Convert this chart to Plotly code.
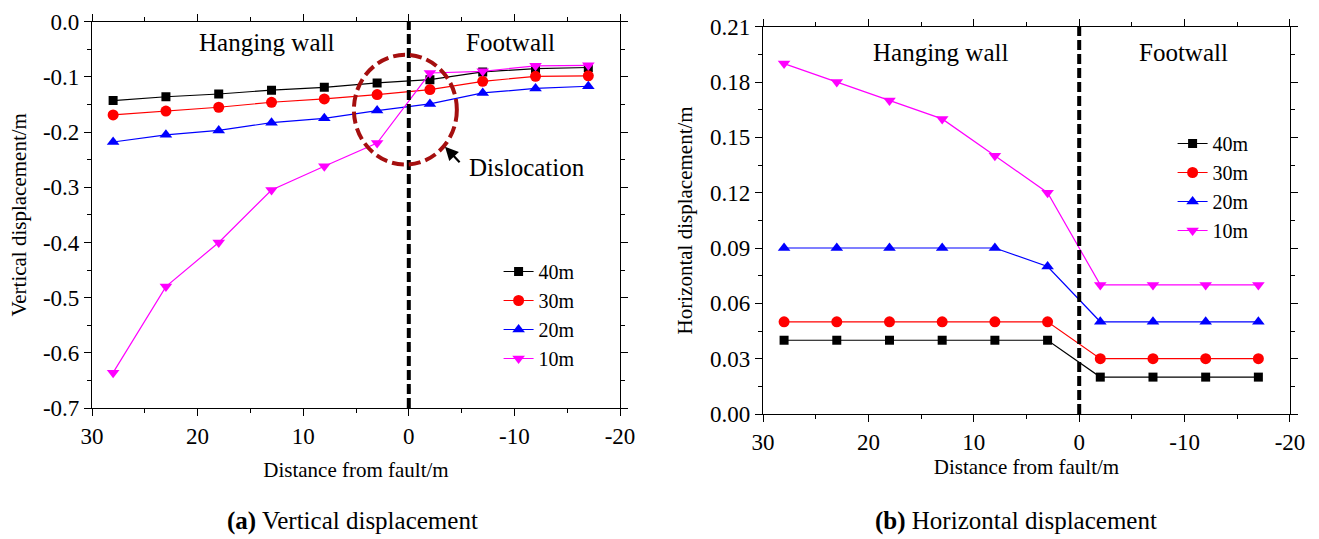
import plotly.graph_objects as go

# ---- data ----
distance = [28, 23, 18, 13, 8, 3, -2, -7, -12, -17]
series_names = ["40m", "30m", "20m", "10m"]

vertical_40 = [-0.143, -0.136, -0.131, -0.124, -0.119, -0.111, -0.105, -0.091, -0.085, -0.083]
vertical_30 = [-0.169, -0.162, -0.155, -0.146, -0.140, -0.132, -0.123, -0.108, -0.099, -0.098]
vertical_20 = [-0.218, -0.205, -0.197, -0.183, -0.175, -0.161, -0.149, -0.129, -0.121, -0.117]
vertical_10 = [-0.636, -0.480, -0.400, -0.305, -0.262, -0.220, -0.093, -0.090, -0.080, -0.079]

horizontal_40 = [0.04, 0.04, 0.04, 0.04, 0.04, 0.04, 0.02, 0.02, 0.02, 0.02]
horizontal_30 = [0.05, 0.05, 0.05, 0.05, 0.05, 0.05, 0.03, 0.03, 0.03, 0.03]
horizontal_20 = [0.09, 0.09, 0.09, 0.09, 0.09, 0.08, 0.05, 0.05, 0.05, 0.05]
horizontal_10 = [0.19, 0.18, 0.17, 0.16, 0.14, 0.12, 0.07, 0.07, 0.07, 0.07]

# tick labels (hyphen-minus as in the original)
x_tick_vals = [30, 20, 10, 0, -10, -20]
x_tick_text = ["30", "20", "10", "0", "-10", "-20"]
yv_tick_vals = [0.0, -0.1, -0.2, -0.3, -0.4, -0.5, -0.6, -0.7]
yv_tick_text = ["0.0", "-0.1", "-0.2", "-0.3", "-0.4", "-0.5", "-0.6", "-0.7"]
yh_tick_vals = [0.0, 0.03, 0.06, 0.09, 0.12, 0.15, 0.18, 0.21]
yh_tick_text = ["0.00", "0.03", "0.06", "0.09", "0.12", "0.15", "0.18", "0.21"]

colors = ["#000000", "#FF0000", "#0000FF", "#FF00FF"]
symbols = ["square", "circle", "triangle-up", "triangle-down"]
marker_sizes = [9, 11, 11, 11]

FONT = "Liberation Serif"

fig = go.Figure()

vert = [vertical_40, vertical_30, vertical_20, vertical_10]
horz = [horizontal_40, horizontal_30, horizontal_20, horizontal_10]

for name, ys, c, s, ms in zip(series_names, vert, colors, symbols, marker_sizes):
    fig.add_trace(go.Scatter(
        x=distance, y=ys, name=name, mode="lines+markers",
        line=dict(color=c, width=1.2),
        marker=dict(color=c, symbol=s, size=ms),
        xaxis="x", yaxis="y", legend="legend",
    ))

for name, ys, c, s, ms in zip(series_names, horz, colors, symbols, marker_sizes):
    fig.add_trace(go.Scatter(
        x=distance, y=ys, name=name, mode="lines+markers",
        line=dict(color=c, width=1.2),
        marker=dict(color=c, symbol=s, size=ms),
        xaxis="x2", yaxis="y2", legend="legend2",
    ))

axis_common = dict(
    showline=True, linecolor="black", linewidth=1.2, mirror="allticks",
    ticks="outside", ticklen=7, tickwidth=1.2, tickcolor="black",
    showgrid=False, zeroline=False, automargin=False,
    tickfont=dict(family=FONT, size=23, color="black"),
)
minor_common = dict(ticks="outside", ticklen=4, tickwidth=1.2, tickcolor="black", showgrid=False)
title_font = dict(family=FONT, size=21, color="black")

fig.update_layout(
    template="none",
    width=1319, height=539, autosize=False,
    margin=dict(l=0, r=0, t=0, b=0),
    paper_bgcolor="white", plot_bgcolor="white",
    font=dict(family=FONT, size=22, color="black"),
    xaxis=dict(domain=[0.06975, 0.47005], range=[30, -20],
               tickmode="array", tickvals=x_tick_vals, ticktext=x_tick_text,
               minor=dict(dtick=5, tick0=0, **minor_common),
               title=dict(text="Distance from fault/m", font=title_font, standoff=14),
               anchor="y", **axis_common),
    yaxis=dict(domain=[0.24304, 0.95974], range=[-0.7, 0],
               tickmode="array", tickvals=yv_tick_vals, ticktext=yv_tick_text,
               minor=dict(dtick=0.05, tick0=0, **minor_common),
               title=dict(text="Vertical displacement/m", font=title_font, standoff=10),
               anchor="x", **axis_common),
    xaxis2=dict(domain=[0.57847, 0.97801], range=[30, -20],
                tickmode="array", tickvals=x_tick_vals, ticktext=x_tick_text,
                minor=dict(dtick=5, tick0=0, **minor_common),
                title=dict(text="Distance from fault/m", font=title_font, standoff=4),
                anchor="y2", **axis_common),
    yaxis2=dict(domain=[0.23191, 0.95046], range=[0, 0.21],
                tickmode="array", tickvals=yh_tick_vals, ticktext=yh_tick_text,
                minor=dict(dtick=0.015, tick0=0, **minor_common),
                title=dict(text="Horizontal displacement/m", font=title_font, standoff=11),
                anchor="x2", **axis_common),
    legend=dict(x=0.378, y=1 - 252 / 539, xanchor="left", yanchor="top",
                bgcolor="rgba(0,0,0,0)", font=dict(family=FONT, size=20),
                tracegroupgap=0, itemwidth=30),
    legend2=dict(x=0.889, y=1 - 124 / 539, xanchor="left", yanchor="top",
                 bgcolor="rgba(0,0,0,0)", font=dict(family=FONT, size=20),
                 tracegroupgap=0, itemwidth=30),
)

# fault lines
for xr, yr in [("x", "y"), ("x2", "y2")]:
    fig.add_shape(type="line", xref=xr, yref=yr + " domain", x0=0, x1=0, y0=0, y1=1,
                  line=dict(color="black", width=4, dash="10px,4px"))

# dislocation ellipse
fig.add_shape(type="circle", xref="x", yref="y", x0=5.2, x1=-4.55, y0=-0.06, y1=-0.259,
              line=dict(color="#A50F0F", width=4, dash="12px,5px"))

annotations = [
    dict(text="Hanging wall", x=13.5, y=-0.038, xref="x", yref="y"),
    dict(text="Footwall", x=-9.6, y=-0.038, xref="x", yref="y"),
    dict(text="Hanging wall", x=13.2, y=0.196, xref="x2", yref="y2"),
    dict(text="Footwall", x=-9.9, y=0.196, xref="x2", yref="y2"),
]
for a in annotations:
    fig.add_annotation(showarrow=False, font=dict(family=FONT, size=25, color="black"), **a)

fig.add_annotation(text="Dislocation", x=-5.5, y=-0.265, xref="x", yref="y", xanchor="left",
                   showarrow=False, font=dict(family=FONT, size=25, color="black"))
fig.add_annotation(text="", x=-3.43, y=-0.2267, xref="x", yref="y",
                   ax=16, ay=17, axref="pixel", ayref="pixel", showarrow=True,
                   arrowhead=2, arrowsize=1.2, arrowwidth=2.2, arrowcolor="black")

fig.add_annotation(text="<b>(a)</b> Vertical displacement", x=352 / 1319, y=1 - 521 / 539,
                   xref="paper", yref="paper", xanchor="center", yanchor="middle",
                   showarrow=False, font=dict(family=FONT, size=25, color="black"))
fig.add_annotation(text="<b>(b)</b> Horizontal displacement", x=1016 / 1319, y=1 - 521 / 539,
                   xref="paper", yref="paper", xanchor="center", yanchor="middle",
                   showarrow=False, font=dict(family=FONT, size=25, color="black"))

fig.write_html("out.html")
